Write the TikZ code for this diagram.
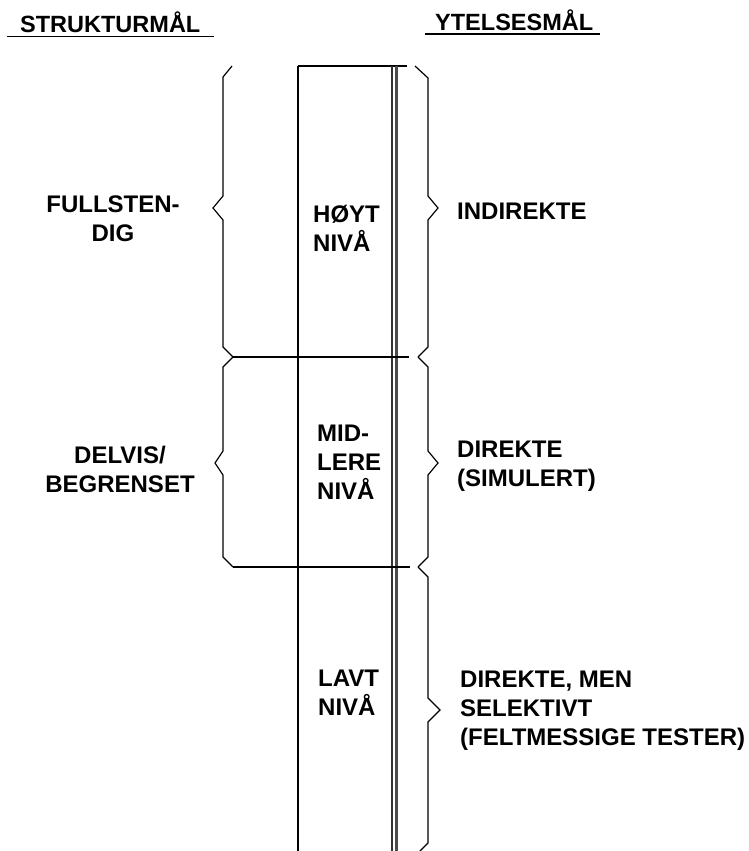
\documentclass[tikz,border=0pt]{standalone}
\usepackage{fontspec}
\setmainfont{Liberation Sans}
\usepackage{tikz}
\usetikzlibrary{positioning}

\begin{document}
\begin{tikzpicture}[x=1pt, y=-1pt,
      lbl/.style={inner sep=0pt, anchor=north west, align=left, font=\fontsize{24}{29}\selectfont\bfseries},
      head/.style={inner sep=0pt, anchor=base west, font=\fontsize{23.5}{29}\selectfont\bfseries},
      uline/.style={line width=1.8pt},
      brace/.style={line width=1.2pt, line join=miter},
      rule/.style={line width=1.2pt}
    ]
      \useasboundingbox (0,0) rectangle (748,851);
      % headings
      \node[head] (strukt) at (20,33) {STRUKTURMÅL};
      \node[head] (ytelse) at (435,31) {YTELSESMÅL};
      \draw[uline] ([shift={(-13,3.5)}]strukt.base west) -- ([shift={(13,3.5)}]strukt.base east);
      \draw[uline] ([shift={(-10,3)}]ytelse.base west) -- ([shift={(7,3)}]ytelse.base east);
      % column
      \draw[rule] (298,66) -- (298,851);
      \draw[rule] (298,66) -- (407,66);
      \draw[line width=1.2pt, black!80] (392,66) -- (392,851);
      \draw[line width=2.2pt, black!70] (396.5,66) -- (396.5,851);
      \draw[rule] (233,357) -- (409,357);
      \draw[rule] (233,567) -- (410,567);
      % left braces
      \draw[brace] (232,66) -- (223,77) -- (223,196) -- (213,208) -- (223,220) -- (223,347) -- (233,357);
      \draw[brace] (233,357) -- (223,367) -- (223,451) -- (215,463) -- (223,475) -- (223,557) -- (233,567);
      % right braces
      \draw[brace] (415,66) -- (428,78) -- (428,196) -- (438,208) -- (428,220) -- (428,347) -- (418,357);
      \draw[brace] (418,357) -- (428,367) -- (428,451) -- (438,463) -- (428,475) -- (428,557) -- (418,567);
      \draw[brace] (418,567) -- (428,577) -- (428,698) -- (440,710) -- (428,722) -- (428,843) -- (420,851);
      % labels
      \node[lbl, anchor=north, align=center] (full) at (113,196) {FULLSTEN-\\DIG};
      \node[lbl, anchor=north, align=center] (delvis) at (120,446) {DELVIS/\\BEGRENSET};
      \node[lbl] (hoy) at (313,205) {HØYT\\NIVÅ};
      \node[lbl] (mid) at (317,425) {MID-\\LERE\\NIVÅ};
      \node[lbl] (lav) at (318,670) {LAVT\\NIVÅ};
      \node[lbl] (indir) at (457,203) {INDIREKTE};
      \node[lbl] (dirsim) at (457,441) {DIREKTE\\(SIMULERT)};
      \node[lbl] (dirsel) at (460,671) {DIREKTE, MEN\\SELEKTIVT\\(FELTMESSIGE TESTER)};
    \end{tikzpicture}
\end{document}
